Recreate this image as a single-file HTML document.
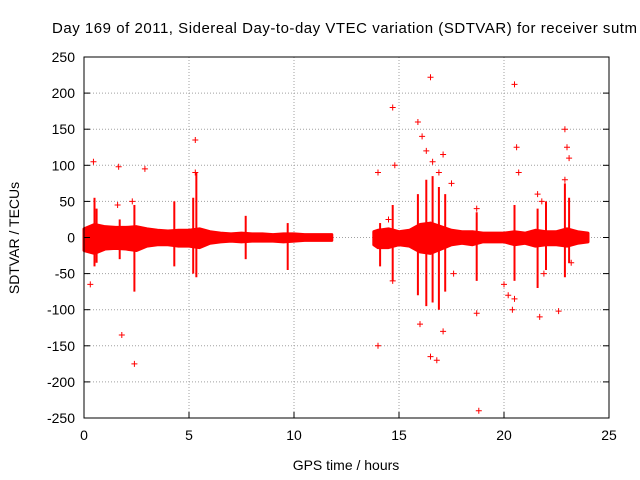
<!DOCTYPE html>
<html><head><meta charset="utf-8"><style>
body{margin:0;background:#fff}
svg{display:block;font-family:"Liberation Sans",sans-serif}
</style></head><body>
<svg id="chart" width="640" height="480" viewBox="0 0 640 480" xmlns="http://www.w3.org/2000/svg">
<rect width="640" height="480" fill="#fff"/>
<text x="52" y="33" font-size="15" textLength="585" lengthAdjust="spacing">Day 169 of 2011, Sidereal Day-to-day VTEC variation (SDTVAR) for receiver sutm</text>
<text transform="translate(19,238) rotate(-90)" font-size="14" text-anchor="middle">SDTVAR / TECUs</text>
<text x="346" y="470" font-size="14" text-anchor="middle">GPS time / hours</text>
<g id="grid"></g><g id="band"></g><g id="marks"></g><g id="axes"></g>
</svg>
<script>
const xTicks=[0,5,10,15,20,25];
const yTicks=[250,200,150,100,50,0,-50,-100,-150,-200,-250];
// envelope segments of the dense data band: time, upper, lower
const bandA_t=[0,0.5,1,1.5,2,2.5,3,3.5,4,4.5,5,5.5,6,6.5,7,7.5,8,8.5,9,9.5,10,10.5,11,11.5,11.8];
const bandA_hi=[12,18,15,14,14,15,12,10,9,10,10,12,8,6,5,6,5,5,4,5,5,4,4,4,4];
const bandA_lo=[-18,-22,-16,-15,-16,-18,-12,-10,-10,-12,-12,-14,-8,-6,-5,-6,-5,-5,-5,-6,-5,-4,-4,-4,-4];
const bandB_t=[13.8,14,14.5,15,15.5,16,16.5,17,17.5,18,18.5,19,19.5,20,20.5,21,21.5,22,22.5,23,23.5,24];
const bandB_hi=[8,10,12,8,10,18,20,15,10,8,8,6,6,6,8,6,10,8,8,12,8,6];
const bandB_lo=[-10,-14,-14,-10,-12,-20,-22,-16,-10,-8,-10,-6,-6,-6,-10,-8,-12,-10,-10,-12,-8,-6];
// vertical spike clusters: time, top, bottom
const spike_t=[0.5,0.6,1.7,2.4,4.3,5.2,5.35,7.7,9.7,14.1,14.7,15.9,16.3,16.6,16.9,17.2,18.7,20.5,21.6,22.0,22.9,23.1];
const spike_hi=[55,40,25,45,50,55,90,30,20,20,45,60,80,85,70,60,35,45,40,50,75,55];
const spike_lo=[-40,-35,-30,-75,-40,-50,-55,-30,-45,-40,-60,-80,-95,-90,-100,-75,-60,-60,-70,-45,-55,-35];
// isolated outliers
const out_t=[0.45,0.3,1.6,1.65,1.8,2.4,2.3,2.9,5.3,5.3,14.0,14.0,14.5,14.7,14.8,14.7,15.9,16.1,16.3,16.5,16.6,16.9,17.1,16.0,16.5,17.1,16.8,17.5,17.6,18.7,18.8,18.7,20.0,20.2,20.5,20.6,20.7,20.5,20.4,21.6,21.8,21.9,22.6,22.9,23.0,23.1,22.9,23.2,21.7];
const out_v=[105,-65,45,98,-135,-175,50,95,135,90,90,-150,25,180,100,-60,160,140,120,222,105,90,115,-120,-165,-130,-170,75,-50,-105,-240,40,-65,-80,212,125,90,-85,-100,60,50,-50,-102,150,125,110,80,-35,-110];

const X0=84,X1=609,Y0=418,Y1=57;
const xs=v=>X0+(v-0)/25*(X1-X0);
const ys=v=>Y0-(v+250)/500*(Y0-Y1);
const NS="http://www.w3.org/2000/svg";
function mk(tag,attrs,parent){const e=document.createElementNS(NS,tag);for(const k in attrs)e.setAttribute(k,attrs[k]);parent.appendChild(e);return e;}
const grid=document.getElementById('grid'),axes=document.getElementById('axes'),band=document.getElementById('band'),marks=document.getElementById('marks');
xTicks.forEach(t=>{
  if(t>0&&t<25){const l=mk('line',{x1:xs(t),x2:xs(t),y1:Y1,y2:Y0,stroke:'#a0a0a0','stroke-dasharray':'1,2'},grid);
  }
  const tk=mk('line',{x1:xs(t),x2:xs(t),y1:Y0,y2:Y0-6,stroke:'#000'},axes);
  
  const tx=mk('text',{x:xs(t),y:Y0+22,'font-size':14,'text-anchor':'middle'},axes);tx.textContent=t;
  
});
yTicks.forEach(t=>{
  if(t>-250&&t<250){const l=mk('line',{x1:X0,x2:X1,y1:ys(t),y2:ys(t),stroke:'#a0a0a0','stroke-dasharray':'1,2'},grid);
  }
  const tk=mk('line',{x1:X0,x2:X0+6,y1:ys(t),y2:ys(t),stroke:'#000'},axes);
  
  const tk2=mk('line',{x1:X1,x2:X1-6,y1:ys(t),y2:ys(t),stroke:'#000'},axes);
  
  const tx=mk('text',{x:X0-9,y:ys(t)+5,'font-size':14,'text-anchor':'end'},axes);tx.textContent=t;
  
});
const fr=mk('rect',{x:X0,y:Y1,width:X1-X0,height:Y0-Y1,fill:'none',stroke:'#000'},axes);

function drawBand(t,hi,lo){
  let pts=t.map((v,i)=>xs(v)+','+ys(hi[i]));
  for(let i=t.length-1;i>=0;i--)pts.push(xs(t[i])+','+ys(lo[i]));
  const p=mk('polygon',{points:pts.join(' '),fill:'#ff0000',stroke:'#ff0000','stroke-width':3,'stroke-linejoin':'round'},band);
  
}
drawBand(bandA_t,bandA_hi,bandA_lo);
drawBand(bandB_t,bandB_hi,bandB_lo);
spike_t.forEach((t,i)=>{
  const l=mk('line',{x1:xs(t),x2:xs(t),y1:ys(spike_hi[i]),y2:ys(spike_lo[i]),stroke:'#ff0000','stroke-width':2},marks);
  
});
function cross(t,v){
  const x=xs(t),y=ys(v);
  const p=mk('path',{d:`M${x-3},${y}H${x+3}M${x},${y-3}V${y+3}`,stroke:'#ff0000','stroke-width':1},marks);
  
}
out_t.forEach((t,i)=>cross(t,out_v[i]));
</script>
</body></html>
